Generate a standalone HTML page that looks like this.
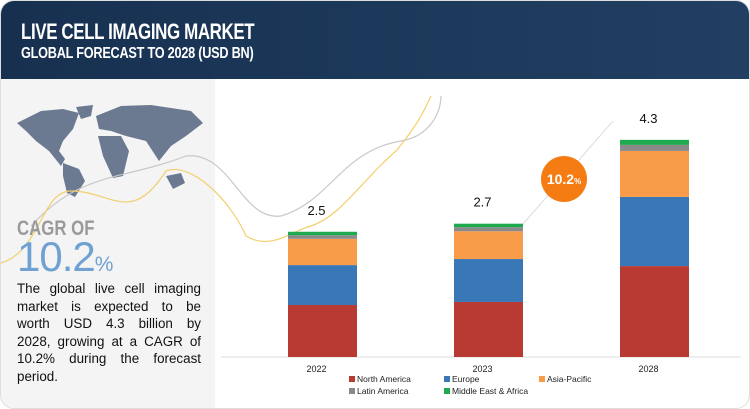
<!DOCTYPE html>
<html><head><meta charset="utf-8">
<style>
body{margin:0;width:750px;height:409px;overflow:hidden;background:#fff;font-family:"Liberation Sans",sans-serif}
#wrap{position:absolute;left:0;top:0;width:748px;height:407px;border:1px solid #ddd;border-radius:14px;overflow:hidden}
#hdr{position:absolute;left:0;top:0;width:750px;height:78px;background:linear-gradient(90deg,#173050,#1d3a5c 60%,#223f63)}
#hdr h1{position:absolute;left:20px;top:18px;margin:0;color:#fff;font-size:22px;font-weight:bold;letter-spacing:-0.5px;transform:scaleX(0.77);transform-origin:left}
#hdr h2{position:absolute;left:20px;top:44px;margin:0;color:#fff;font-size:15.5px;font-weight:bold;letter-spacing:-0.3px;transform:scaleX(0.82);transform-origin:left}
#left{position:absolute;left:0;top:78px;width:214px;height:331px;background:#f4f4f4}
#cagr{position:absolute;left:16px;top:216px;color:#9a9a9a;font-size:21px;font-weight:bold;transform:scaleX(0.8);transform-origin:left}
#big{position:absolute;left:16px;top:232px;color:#6fa1d2;font-size:42px;letter-spacing:-1px}
#big span{font-size:21px}
#para{position:absolute;left:16px;top:279px;width:184px;font-size:13.4px;line-height:17.6px;color:#111}
#para span{display:block;text-align:justify;text-align-last:justify}
#para span.last{text-align-last:left}
svg{position:absolute;left:0;top:0}
</style></head><body>
<div id="wrap">
<div id="hdr">
<h1>LIVE CELL IMAGING MARKET</h1>
<h2>GLOBAL FORECAST TO 2028 (USD BN)</h2>
</div>
<div id="left"></div>
<svg width="750" height="409" id="chart">
<g fill="#6b7a90">
<path d="M16 122 L40 110 L62 108 L78 112 L72 128 L62 140 L58 150 L64 158 L60 165 L48 150 L35 140 L25 130Z"/>
<path d="M75 106 L92 104 L90 115 L80 118Z"/>
<path d="M62 162 L78 168 L84 180 L74 196 L66 192 L62 175Z"/>
<path d="M95 115 L120 105 L150 104 L190 110 L202 122 L185 135 L170 145 L158 160 L145 140 L125 135 L110 130 L98 128Z"/>
<path d="M97 135 L120 135 L128 150 L122 175 L112 177 L102 155Z"/>
<path d="M165 175 L180 172 L184 182 L172 188Z"/>
</g>
<path d="M30 225 C80 170 120 180 185 155 C230 150 240 220 280 215 C330 200 340 150 400 140 C430 135 440 110 440 95" fill="none" stroke="#c8c8c8" stroke-width="1.2"/>
<path d="M0 262 C40 250 40 190 70 190 C110 190 130 225 165 170 C190 160 230 200 245 235 C270 250 290 230 310 225 C340 215 360 180 395 150 C420 120 425 105 430 95" fill="none" stroke="#f2cf6e" stroke-width="1.2"/>
<line x1="220" y1="356" x2="740" y2="356" stroke="#ddd"/>
<g id="bars"></g>
<line x1="522" y1="223" x2="612" y2="120" stroke="#ddd" stroke-width="1"/>
<circle cx="563" cy="178" r="23" fill="#f47c12"/>
<text x="563" y="183" text-anchor="middle" fill="#fff" font-size="14" font-weight="bold">10.2<tspan font-size="8">%</tspan></text>
<g id="legend"></g>
</svg>
<div id="cagr">CAGR OF</div>
<div id="big">10.2<span>%</span></div>
<div id="para"><span>The global live cell imaging</span><span>market is expected to be</span><span>worth USD 4.3 billion by</span><span>2028, growing at a CAGR of</span><span>10.2% during the forecast</span><span class="last">period.</span></div>
</div>
<script>
const years=["2022","2023","2028"];
const totals=["2.5","2.7","4.3"];
const seriesNames=["North America","Europe","Asia-Pacific","Latin America","Middle East & Africa"];
const northAmerica=[1.03,1.09,1.80];
const europe=[0.79,0.85,1.37];
const asiaPacific=[0.52,0.55,0.91];
const latinAmerica=[0.07,0.08,0.12];
const mea=[0.07,0.07,0.10];
const series=[northAmerica,europe,asiaPacific,latinAmerica,mea];
const colors=["#b83a32","#3a77b6","#f89c4a","#8a8a8a","#1faa50"];
const NS="http://www.w3.org/2000/svg";
const base=356,scale=50.5,bw=69;
function y(v){return base-v*scale;}
function xc(i){return 321.5+i*166;}
const g=document.getElementById('bars');
years.forEach((yr,i)=>{
  let acc=0;
  series.forEach((s,k)=>{
    const r=document.createElementNS(NS,'rect');
    r.setAttribute('x',xc(i)-bw/2);r.setAttribute('width',bw);
    r.setAttribute('y',y(acc+s[i]));r.setAttribute('height',s[i]*scale);
    r.setAttribute('fill',colors[k]);
    
    
    g.appendChild(r);acc+=s[i];
  });
  const t=document.createElementNS(NS,'text');
  t.setAttribute('x',xc(i)-6);t.setAttribute('y',y(acc)-17);
  t.setAttribute('text-anchor','middle');t.setAttribute('font-size','13');t.setAttribute('fill','#111');
  t.textContent=totals[i];
  
  
  g.appendChild(t);
  const l=document.createElementNS(NS,'text');
  l.setAttribute('x',xc(i)-6);l.setAttribute('y',371);
  l.setAttribute('text-anchor','middle');l.setAttribute('font-size','9');l.setAttribute('fill','#222');
  l.textContent=yr;
  
  
  g.appendChild(l);
});
const lg=document.getElementById('legend');
const lx=[348,443,538,348,443],ly=[381,381,381,393,393];
seriesNames.forEach((n,k)=>{
  const r=document.createElementNS(NS,'rect');
  r.setAttribute('x',lx[k]);r.setAttribute('y',ly[k]-6);r.setAttribute('width',6);r.setAttribute('height',6);
  r.setAttribute('fill',colors[k]);
  
  
  lg.appendChild(r);
  const t=document.createElementNS(NS,'text');
  t.setAttribute('x',lx[k]+8);t.setAttribute('y',ly[k]);t.setAttribute('font-size','8.5');t.setAttribute('fill','#222');
  t.textContent=n;
  
  
  lg.appendChild(t);
});
</script>
</body></html>
